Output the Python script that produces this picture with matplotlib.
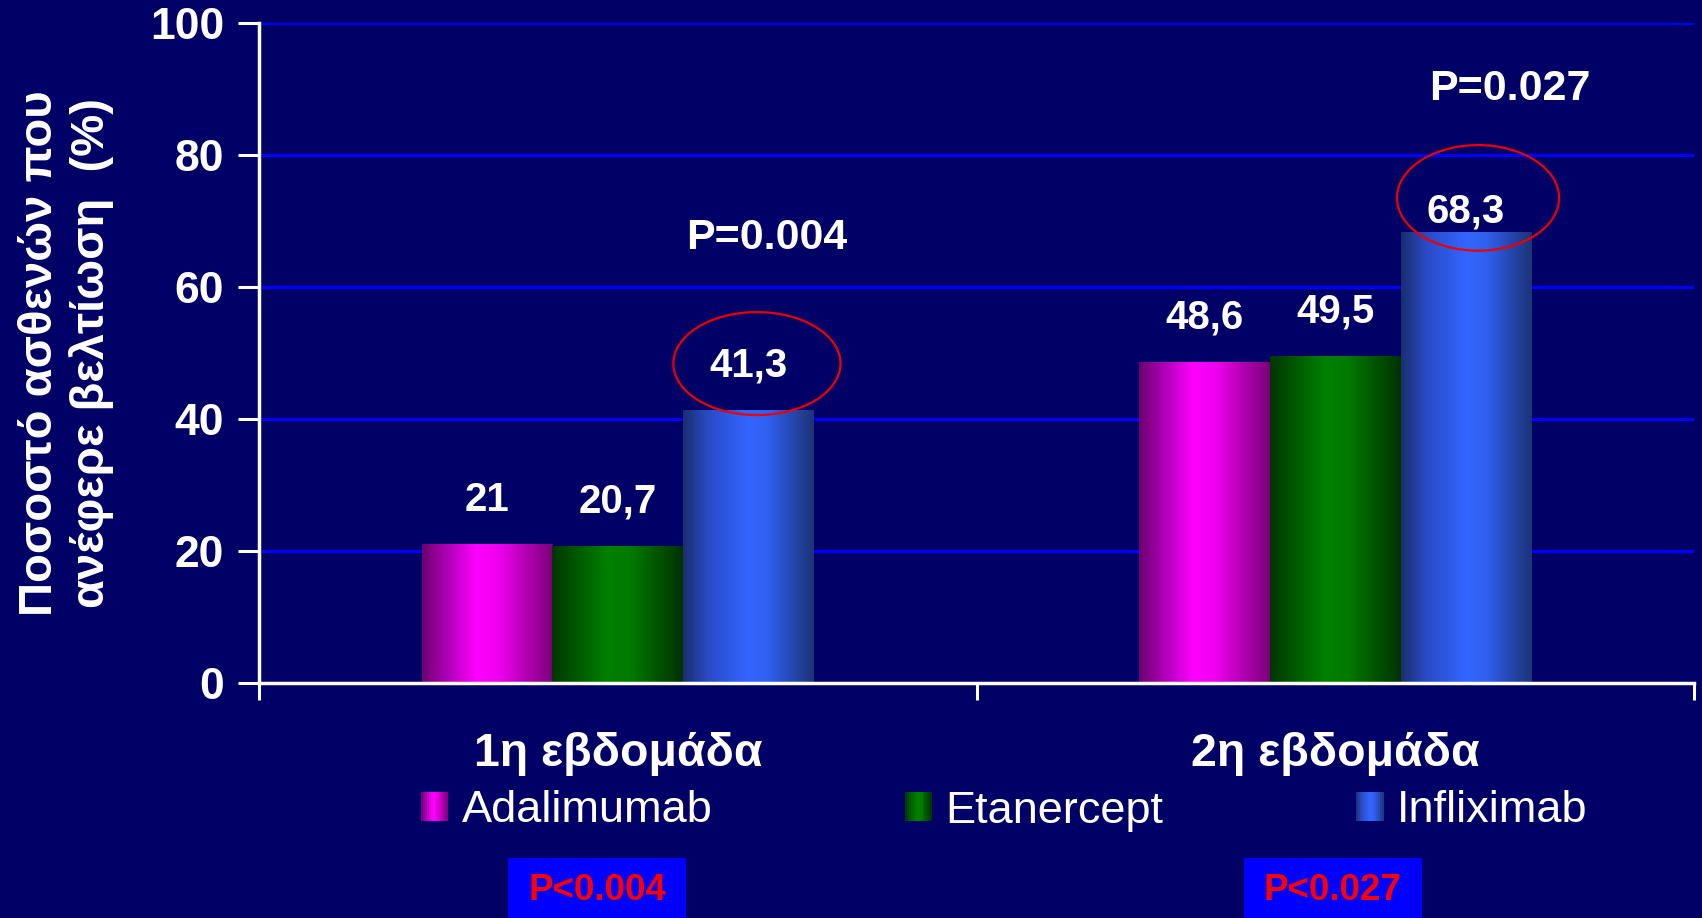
import matplotlib
matplotlib.use('Agg')
import matplotlib.pyplot as plt
import numpy as np
from matplotlib.patches import Ellipse, Rectangle
from matplotlib.colors import LinearSegmentedColormap
from matplotlib.legend_handler import HandlerBase

# ---------------- data ----------------
categories = ['1η εβδομάδα', '2η εβδομάδα']
series_names = ['Adalimumab', 'Etanercept', 'Infliximab']
adalimumab = [21, 48.6]
etanercept = [20.7, 49.5]
infliximab = [41.3, 68.3]
value_labels = [['21', '48,6'], ['20,7', '49,5'], ['41,3', '68,3']]
p_top = ['P=0.004', 'P=0.027']
p_bottom = ['P<0.004', 'P<0.027']
yticks = [0, 20, 40, 60, 80, 100]
ylabel = 'Ποσοστό ασθενών που\nανέφερε βελτίωση  (%)'

# ---------------- style ----------------
BG = '#000066'
FONT = ['Liberation Sans', 'DejaVu Sans']
grad_stops = [
    [(0.0, '#6c0070'), (0.2, '#b000b8'), (0.42, '#ff00ff'), (0.58, '#f000f0'), (1.0, '#7a0078')],
    [(0.0, '#003600'), (0.2, '#005a00'), (0.42, '#008000'), (0.6, '#007a00'), (1.0, '#003200')],
    [(0.0, '#1a2f70'), (0.2, '#2a4bc8'), (0.5, '#3366ff'), (0.65, '#3060f0'), (1.0, '#1d3378')],
]
cmaps = [LinearSegmentedColormap.from_list('g%d' % i, s) for i, s in enumerate(grad_stops)]

plt.rcParams['font.family'] = FONT

fig = plt.figure(figsize=(17.02, 9.18), dpi=100, facecolor=BG)
ax = fig.add_axes([259 / 1702, 1 - 683 / 918, (1694 - 259) / 1702, (683 - 23) / 918])
ax.set_facecolor(BG)

x = np.arange(len(categories))
w = 0.182
series = [adalimumab, etanercept, infliximab]
grad = np.linspace(0, 1, 256).reshape(1, -1)
for i, (vals, cm) in enumerate(zip(series, cmaps)):
    bars = ax.bar(x + (i - 1) * w, vals, w, color='none', edgecolor='none', zorder=3)
    for j, p in enumerate(bars.patches):
        x0, h = p.get_x(), p.get_height()
        ax.imshow(grad, cmap=cm, aspect='auto', extent=(x0, x0 + p.get_width(), 0, h),
                  zorder=3, interpolation='bilinear')
        dy = 6.8 if not (i == 2 and j == 1) else 3.1
        ax.text(p.get_x() + p.get_width() / 2, h + dy, value_labels[i][j], ha='center', va='center',
                color='white', fontsize=29, fontweight='bold', zorder=5)

# red ellipses around Infliximab values
ell_centers = [(0.194, 48.4), (1.199, 73.5)]
ell_sizes = [(0.233, 15.6), (0.226, 16.0)]
for (cx, cy), (ew, eh) in zip(ell_centers, ell_sizes):
    ax.add_patch(Ellipse((cx, cy), ew, eh, facecolor='none', edgecolor='#ee0000', lw=1.6, zorder=6))

# P= annotations
p_pos = [(0.208, 67.4), (1.243, 90.0)]
for (px, py), t in zip(p_pos, p_top):
    ax.text(px, py, t, ha='center', va='center', color='white', fontsize=31, fontweight='bold', zorder=6)

ax.set_xlim(-0.5, 1.5)
ax.set_ylim(0, 100)

# axes styling
for s in ['top', 'right']:
    ax.spines[s].set_visible(False)
for s in ['left', 'bottom']:
    ax.spines[s].set_color('white')
    ax.spines[s].set_linewidth(2.5)
    ax.spines[s].set_zorder(7)
ax.set_axisbelow(True)
ax.yaxis.grid(True, color='#0000ff', lw=2.3)
ax.set_yticks(yticks)
ax.set_yticklabels([str(v) for v in yticks])
ax.tick_params(axis='y', colors='white', length=15, width=2.2, pad=10, labelsize=32, direction='out')
for lab in ax.get_yticklabels():
    lab.set_fontweight('bold')

ax.set_xticks(x)
ax.set_xticklabels(categories)
ax.set_xticks([-0.5, 0.5, 1.5], minor=True)
ax.tick_params(axis='x', which='major', length=0, pad=35, labelsize=33.5, colors='white')
ax.tick_params(axis='x', which='minor', length=12, width=2.2, color='white', direction='out')
for lab in ax.get_xticklabels():
    lab.set_fontweight('bold')

fig.text(66 / 1702, 1 - 353 / 918, ylabel, rotation=90, ha='center', va='center', color='white',
         fontsize=34, fontweight='bold', linespacing=1.2, multialignment='center')


# legend with gradient swatches
class GradHandler(HandlerBase):
    def __init__(self, cmap):
        super().__init__()
        self.cmap = cmap

    def create_artists(self, legend, orig_handle, xdescent, ydescent, width, height, fontsize, trans):
        n = 14
        arts = []
        for k in range(n):
            arts.append(Rectangle((-xdescent + width * k / n, -ydescent), width / n * 1.05, height,
                                  facecolor=self.cmap((k + 0.5) / n), edgecolor='none', transform=trans))
        return arts


proxies = [Rectangle((0, 0), 1, 1) for _ in series_names]
leg = fig.legend(proxies, series_names, handler_map={p: GradHandler(c) for p, c in zip(proxies, cmaps)},
                 loc='center left', bbox_to_anchor=(421 / 1702, 1 - 811 / 918), ncol=3, frameon=False,
                 borderpad=0, borderaxespad=0, handlelength=0.6, handleheight=0.6, handletextpad=0.3,
                 columnspacing=4.27, prop={'family': FONT, 'size': 32.5})
for t in leg.get_texts():
    t.set_color('white')

# P< boxes at bottom
box_x = [(508, 686), (1244, 1422)]
for (bx0, bx1), t in zip(box_x, p_bottom):
    fig.patches.append(Rectangle((bx0 / 1702, 0), (bx1 - bx0) / 1702, (918 - 858) / 918,
                                 transform=fig.transFigure, facecolor='#0000ff', edgecolor='none'))
    fig.text((bx0 + bx1) / 2 / 1702, 1 - 890 / 918, t, ha='center', va='center', color='#ff0000',
             fontsize=26.5, fontweight='bold')

fig.savefig('out.png', dpi=100, facecolor=BG)
